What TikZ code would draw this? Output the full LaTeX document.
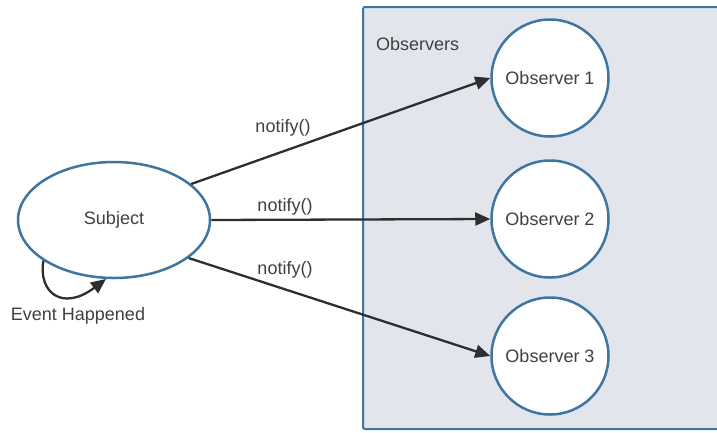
\documentclass[tikz,border=0pt]{standalone}
\usepackage{fontspec}
\setmainfont{Liberation Sans}
\usetikzlibrary{shapes.geometric,arrows.meta}
\definecolor{rim}{HTML}{3E76A0}
\definecolor{panel}{HTML}{E2E5EB}
\definecolor{ink}{HTML}{2E2E2E}
\definecolor{txt}{HTML}{404040}
\tikzset{
  lbl/.style={text=txt, font=\fontsize{18}{21}\selectfont, inner sep=0pt},
  obs/.style={circle, draw=rim, line width=2.5pt, fill=white, minimum size=117pt, inner sep=0pt, text=txt, font=\fontsize{18}{21}\selectfont},
  subj/.style={ellipse, draw=rim, line width=2.5pt, fill=white, minimum width=192pt, minimum height=116pt, inner sep=0pt, text=txt, font=\fontsize{18}{21}\selectfont},
  msg/.style={draw=ink, line width=2.3pt, -{Triangle[length=15pt,width=13pt]}},
}
\begin{document}
\begin{tikzpicture}[x=1pt,y=-1pt]
  \useasboundingbox (0,0) rectangle (717,432);
  % observers panel, running off the right edge
  \draw[draw=rim, line width=2pt, fill=panel, rounded corners=2pt] (363,7) rectangle (730,429);
  \node[lbl, anchor=west] (obslbl) at (376,44) {Observers};

  \node[obs] (o1) at (550,78) {Observer 1};
  \node[obs] (o2) at (550,219) {Observer 2};
  \node[obs] (o3) at (550,356) {Observer 3};

  \node[subj] (s) at (114,220) {Subject};

  \draw[msg] (s.25) -- (o1.west);
  \draw[msg] (s.east) -- (o2.west);
  \draw[msg] (s.-27) -- (o3.west);

  \node[lbl] (n1) at (283,128) {notify()};
  \node[lbl] (n2) at (285,207) {notify()};
  \node[lbl] (n3) at (285,270) {notify()};

  % self loop for the event
  \coordinate (loopend) at (106,279);
  \draw[msg] (s.-150) .. controls (38,292) and (62,312) .. (loopend);
  \node[lbl] (ev) at (78,316) {Event Happened};
\end{tikzpicture}
\end{document}
